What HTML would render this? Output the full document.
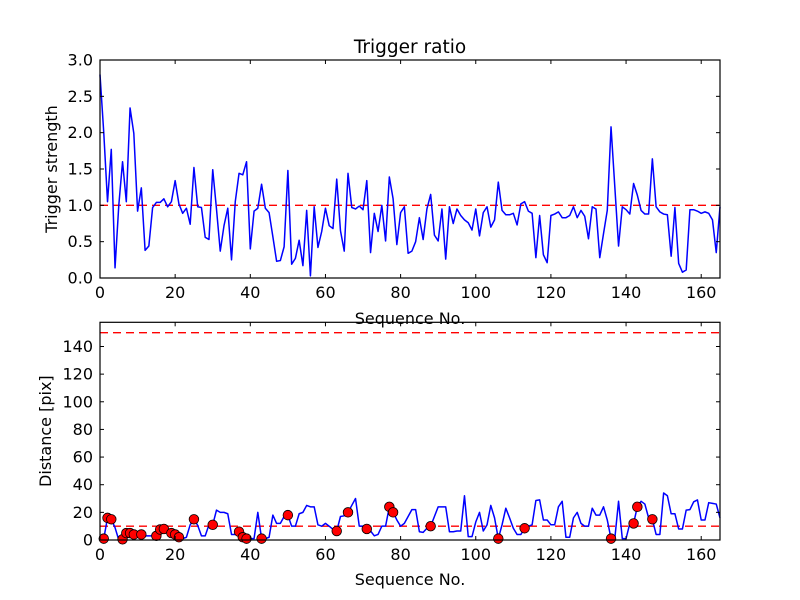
<!DOCTYPE html>
<html><head><meta charset="utf-8"><style>
html,body{margin:0;padding:0;background:#fff;}
svg{display:block;font-family:"DejaVu Sans","Liberation Sans",sans-serif;}
</style></head><body>
<svg id="chart" width="800" height="600" viewBox="0 0 800 600" xmlns="http://www.w3.org/2000/svg">
<rect x="0" y="0" width="800" height="600" fill="#fff"/>
<text x="410" y="53" font-size="18.5" text-anchor="middle">Trigger ratio</text>
<g id="topPanel"></g>
<g id="botPanel"></g>
</svg>
<script>
const trigger = [2.8,2.0,1.05,1.77,0.14,1.0,1.6,1.05,2.34,1.99,0.92,1.24,0.38,0.44,0.97,1.04,1.04,1.09,0.98,1.05,1.34,1.02,0.89,0.96,0.74,1.52,0.98,0.97,0.56,0.53,1.49,0.95,0.37,0.72,0.96,0.25,1.05,1.44,1.42,1.60,0.4,0.92,0.96,1.29,0.96,0.9,0.57,0.23,0.24,0.43,1.48,0.19,0.27,0.52,0.17,0.93,0.03,
0.98,0.42,0.64,0.96,0.72,0.68,1.36,0.65,0.37,1.44,0.97,0.95,0.99,0.94,1.34,0.35,0.89,0.64,1.0,0.51,1.39,1.09,0.46,0.9,0.98,0.34,0.37,0.5,0.83,0.53,0.95,1.15,0.59,0.51,0.95,0.26,0.98,0.75,0.95,
0.86,0.8,0.76,0.66,0.95,0.58,0.9,0.98,0.7,0.8,1.32,0.93,0.87,0.87,0.89,
0.73,1.02,1.05,0.92,0.89,0.28,0.86,0.32,0.21,0.86,0.88,0.91,0.83,0.83,0.86,0.98,0.83,0.93,0.85,0.54,0.98,0.95,0.28,0.61,0.93,2.08,1.26,0.44,0.98,0.94,0.88,1.3,1.14,0.93,0.88,0.88,1.64,0.98,0.91,0.88,0.87,0.3,0.97,0.2,0.08,0.11,0.94,0.94,0.92,0.89,0.91,0.89,0.8,0.35,0.98];
const distance = [1,1,16,15,9,0,0.5,5,5,4,4,4,3,3,3,3,7.6,8,6,5,4,2,1,2,11,15,10.6,3,3,11,11,21.6,20,20,19,4,4,6,2,1,1,1,20,1,1,2,18,12,12,17,18,10,10,19,20,25,24,24,11,10,12,10,7.7,6.5,17,17.5,20,25,30,10,10,8,6.5,3,4,10,10,24,20,14.5,10,12,17,22,22,6,5.5,8.5,10,17,24,24,24,6,6,6.5,6.5,32,2.4,2.4,13,20,6.5,11,25,16,1,11,23,16,8.5,4,4,8.5,10,11,28.6,29,14.5,14.5,11,11,24,28,2,2,16,20,12,10,10,23,18,18,24,14.5,1,1,28,1,1,12,12,24,28,26,16,15,4,4,34,32,19,19,8,8,21.6,22,27.6,29,14.5,14.5,27,26.5,26,16];
const flaggedIdx = [1,2,3,6,7,8,9,11,15,16,17,19,20,21,25,30,37,38,39,43,50,63,66,71,77,78,88,106,113,136,142,143,147];
const xTicks = [0,20,40,60,80,100,120,140,160];
const topYTicks = [0.0,0.5,1.0,1.5,2.0,2.5,3.0];
const botYTicks = [0,20,40,60,80,100,120,140];
const topThreshold = [1.0];
const botThresholds = [10,150];

const NS="http://www.w3.org/2000/svg";
function mk(tag,attrs,parent){const e=document.createElementNS(NS,tag);for(const k in attrs)e.setAttribute(k,attrs[k]);parent.appendChild(e);return e;}

function panel(g,y0,y1,ymax,yTicks,yFmt,series,thresholds,ylabel,ylabelX,xlabelY,dots,pfx){
  const X0=100,X1=720,xmax=165;
  const sx=v=>X0+v/xmax*(X1-X0);
  const sy=v=>y1-v/ymax*(y1-y0);
  thresholds.forEach(t=>{
    const l=mk('line',{x1:X0,x2:X1,y1:sy(t),y2:sy(t),stroke:'#ff0000','stroke-width':1.3,'stroke-dasharray':'8,5'},g);
    
    
  });
  const pts=series.map((v,i)=>sx(i).toFixed(2)+','+sy(v).toFixed(2)).join(' ');
  const pl=mk('polyline',{points:pts,fill:'none',stroke:'#0000ff','stroke-width':1.5,'stroke-linejoin':'round'},g);
  
  
  if(dots){
    dots.forEach(i=>{
      const c=mk('circle',{cx:sx(i),cy:sy(series[i]),r:4.8,fill:'#ff0000',stroke:'#000','stroke-width':0.8},g);
      
      
    });
  }
  const fr=mk('rect',{x:X0,y:y0,width:X1-X0,height:y1-y0,fill:'none',stroke:'#000','stroke-width':1.2},g);
  
  
  xTicks.forEach(t=>{
    const x=sx(t);
    mk('line',{x1:x,x2:x,y1:y1,y2:y1-4,stroke:'#000','stroke-width':1},g);
    mk('line',{x1:x,x2:x,y1:y0,y2:y0+4,stroke:'#000','stroke-width':1},g);
    const tx=mk('text',{x:x,y:y1+20,'font-size':16,'text-anchor':'middle'},g);
    tx.textContent=t;
    
    
  });
  yTicks.forEach(t=>{
    const y=sy(t);
    mk('line',{x1:X0,x2:X0+4,y1:y,y2:y,stroke:'#000','stroke-width':1},g);
    mk('line',{x1:X1,x2:X1-4,y1:y,y2:y,stroke:'#000','stroke-width':1},g);
    const tx=mk('text',{x:X0-7,y:y+5.5,'font-size':16,'text-anchor':'end'},g);
    tx.textContent=yFmt(t);
    
    
  });
  const xl=mk('text',{x:410,y:xlabelY,'font-size':16,'text-anchor':'middle'},g);
  xl.textContent='Sequence No.';
  
  
  const cy=(y0+y1)/2;
  const yl=mk('text',{x:ylabelX,y:cy,'font-size':16,'text-anchor':'middle',transform:'rotate(-90 '+ylabelX+' '+cy+')'},g);
  yl.textContent=ylabel;
  
  
}
const topG=document.getElementById('topPanel'), botG=document.getElementById('botPanel');
panel(topG,60,278,3.0,topYTicks,t=>t.toFixed(1),trigger,topThreshold,'Trigger strength',57,324,null,'trigger');
panel(botG,322.3,540,157.5,botYTicks,t=>String(t),distance,botThresholds,'Distance [pix]',51,585,flaggedIdx,'distance');
</script>
</body></html>
